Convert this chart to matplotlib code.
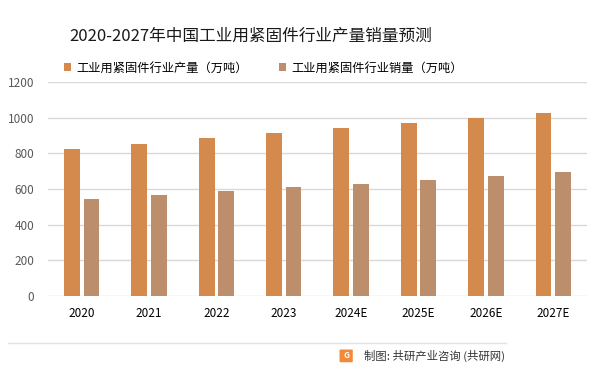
import numpy as np
import matplotlib
matplotlib.use("Agg")
import matplotlib.pyplot as plt
from matplotlib.patches import FancyBboxPatch

plt.rcParams['font.family'] = ['Noto Sans CJK SC', 'DejaVu Sans']

years = ["2020", "2021", "2022", "2023", "2024E", "2025E", "2026E", "2027E"]
output = [825, 853, 887, 915, 943, 971, 1000, 1028]
sales = [545, 567, 590, 612, 630, 652, 674, 697]

c_out = "#D48A4C"
c_sales = "#BC8E6C"

fig = plt.figure(figsize=(6.02, 3.75), dpi=100)
ax = fig.add_axes([0.0797, 0.2107, 0.8953, 0.5706])

x = np.arange(len(years))
w = 0.235
ax.bar(x - 0.145, output, w, color=c_out, label="工业用紧固件行业产量（万吨）", zorder=3)
ax.bar(x + 0.145, sales, w, color=c_sales, label="工业用紧固件行业销量（万吨）", zorder=3)

ax.set_xlim(-0.5, len(years) - 0.5)
ax.set_ylim(0, 1200)
ax.set_yticks(range(0, 1201, 200))
ax.set_xticks(x)
ax.set_xticklabels(years)
ax.grid(axis="y", color="#D9D9D9", linewidth=1, zorder=0)
for s in ax.spines.values():
    s.set_visible(False)
ax.tick_params(axis="both", length=0, labelsize=8.5, colors="#404040")
ax.tick_params(axis="y", pad=10, labelcolor="#595959")
ax.tick_params(axis="x", pad=8, labelcolor="#000000")

fig.text(0.417, 0.904, "2020-2027年中国工业用紧固件行业产量销量预测",
         ha="center", va="center", fontsize=12, color="#1a1a1a")

ax.legend(loc="lower left", bbox_to_anchor=(0.02, 1.012), ncol=2, frameon=False,
          fontsize=8.8, handlelength=0.6, handleheight=0.6, handletextpad=0.45,
          columnspacing=2.5, borderaxespad=0)

# bottom rule and source line
fig.add_artist(plt.Line2D([0.013, 0.84], [0.085, 0.085], color="#E3E3E3", linewidth=1))
logo = FancyBboxPatch((0.566, 0.036), 0.018, 0.03, boxstyle="round,pad=0.002",
                      transform=fig.transFigure, facecolor="#F08A3A", edgecolor="none")
fig.add_artist(logo)
fig.text(0.575, 0.051, "G", ha="center", va="center", fontsize=6, color="white",
         fontweight="bold")
fig.text(0.839, 0.05, "制图: 共研产业咨询 (共研网)", ha="right", va="center",
         fontsize=8.2, color="#333333")

fig.savefig("out.png", dpi=100)
